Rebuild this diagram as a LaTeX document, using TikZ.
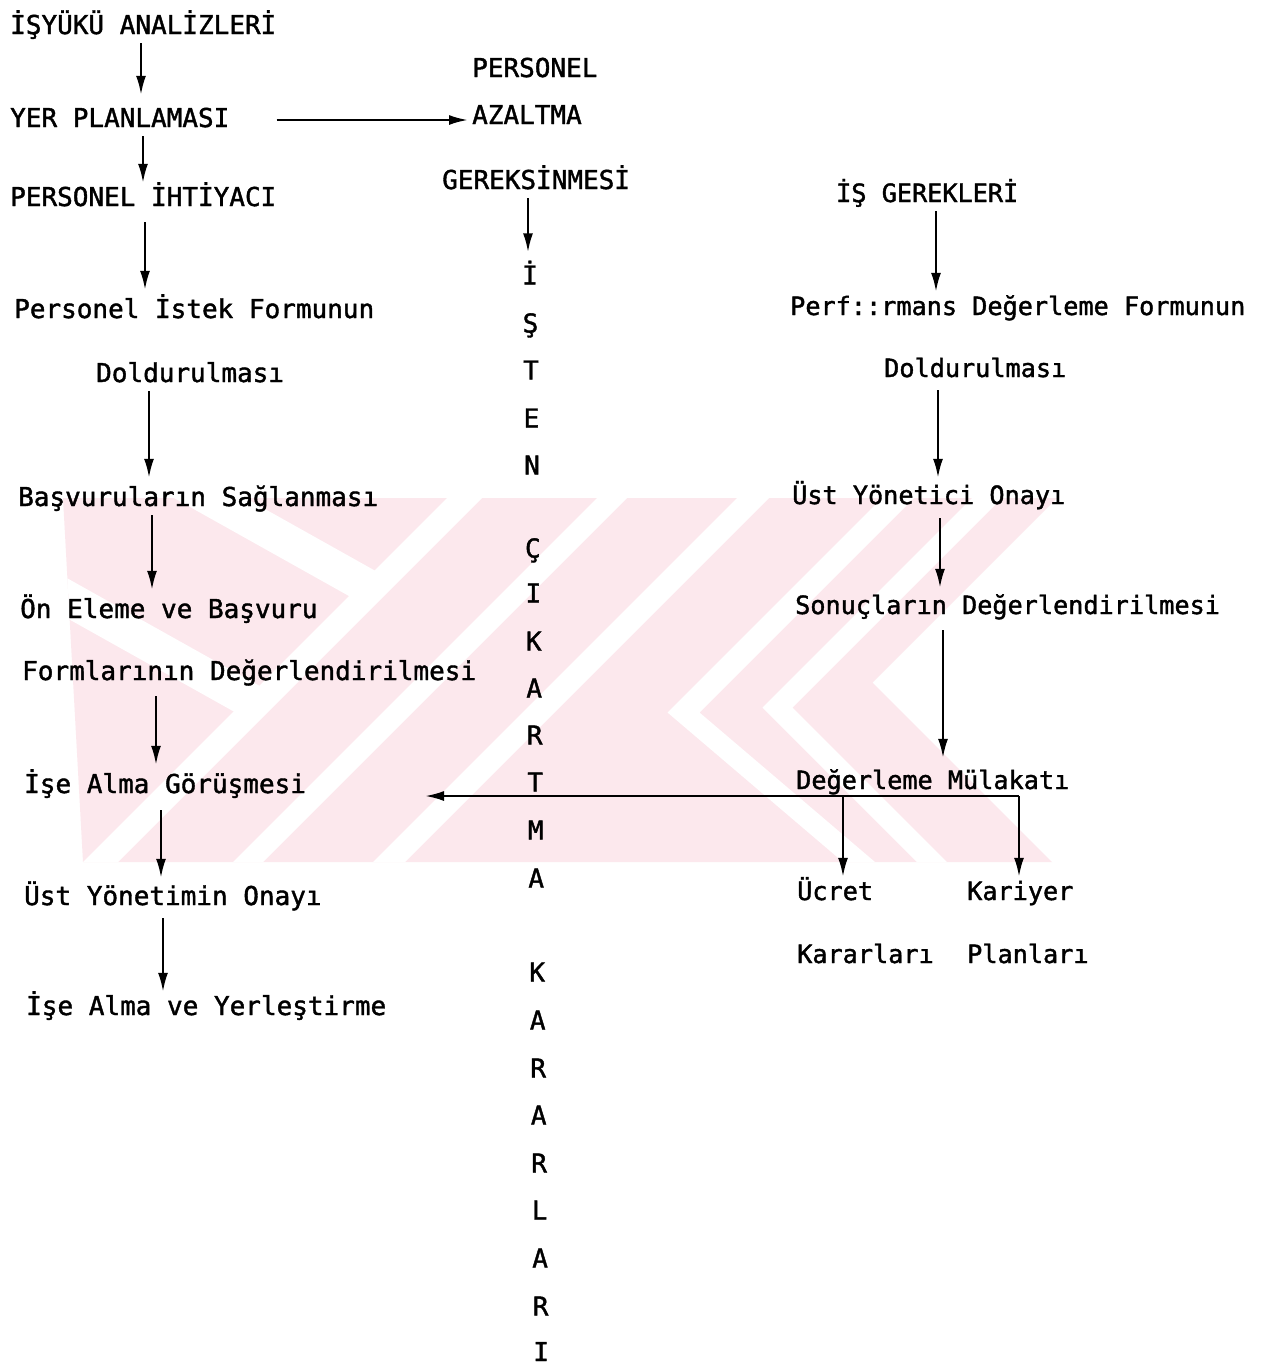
\documentclass[tikz,border=0pt]{standalone}
\usepackage{fontspec}
\newfontfamily\dm[FakeBold=1.5,AutoFakeBold=1.5]{DejaVu Sans Mono}
\usetikzlibrary{arrows.meta}
\definecolor{wm}{RGB}{252,232,237}
\begin{document}
\begin{tikzpicture}[x=1pt,y=-1pt,
  lbl/.style={anchor=base west, inner xsep=0pt, inner ysep=4pt, text height=19pt, text depth=5pt, font=\dm\bfseries\fontsize{26}{28}\selectfont},
  rlbl/.style={lbl, font=\dm\bfseries\fontsize{25.2}{28}\selectfont},
  vch/.style={anchor=base, inner xsep=0pt, inner ysep=4pt, text height=19pt, text depth=5pt, font=\dm\bfseries\fontsize{26}{28}\selectfont},
  arr/.style={line width=2.3pt, -{Latex[length=19pt,width=10pt]}},
  ln/.style={line width=2.3pt}
]
\useasboundingbox (0,0) rectangle (1264,1366);
\fill[white] (0,0) rectangle (1264,1366);

% ---------- watermark ----------
\begin{scope}
\clip (63,498) -- (1057,498) -- (872.5,682.5) -- (1052,862) -- (83,862) -- cycle;
\fill[wm] (0,490) rectangle (1100,870);
\fill[white] (447,498) -- (482,498) -- (118,862) -- (83,862) -- cycle;
\fill[white] (100,416.6) -- (384.2,575.8) -- (358.6,601.4) -- (100,456.6) -- cycle;
\fill[white] (40,563) -- (268.8,691.1) -- (243.2,716.8) -- (40,603) -- cycle;
\fill[white] (597,498) -- (627,498) -- (263,862) -- (233,862) -- cycle;
\fill[white] (737,498) -- (769,498) -- (405,862) -- (373,862) -- cycle;
\fill[white] (882,498) -- (914,498) -- (699.5,712.5) -- (875,862) -- (843,862) -- (667.5,712.5) -- cycle;
\fill[white] (972,498) -- (1002,498) -- (792.5,707.5) -- (947,862) -- (917,862) -- (762.5,707.5) -- cycle;
\end{scope}

% ---------- left column ----------
\node[lbl] (n1) at (10,34) {İŞYÜKÜ ANALİZLERİ};
\node[lbl] (n2) at (10,127) {YER PLANLAMASI};
\node[lbl] (n3) at (10,206) {PERSONEL İHTİYACI};
\node[lbl] (n4) at (14,318) {Personel İstek Formunun};
\node[lbl] (n5) at (96,382) {Doldurulması};
\node[lbl] (n6) at (18,506) {Başvuruların Sağlanması};
\node[lbl] (n7) at (20,618) {Ön Eleme ve Başvuru};
\node[lbl] (n8) at (22,680) {Formlarının Değerlendirilmesi};
\node[lbl] (n9) at (24,793) {İşe Alma Görüşmesi};
\node[lbl] (n10) at (24,905) {Üst Yönetimin Onayı};
\node[lbl] (n11) at (26,1015) {İşe Alma ve Yerleştirme};

% ---------- middle ----------
\node[lbl] (m1) at (472,77) {PERSONEL};
\node[lbl] (m2) at (472,124) {AZALTMA};
\node[lbl] (m3) at (442,189) {GEREKSİNMESİ};
\node[vch] (v1) at (530.0,284.5) {İ};
\node[vch] (v2) at (530.5,332.5) {Ş};
\node[vch] (v3) at (531.0,379.5) {T};
\node[vch] (v4) at (531.5,427.5) {E};
\node[vch] (v5) at (532.0,474.5) {N};
\node[vch] (v6) at (532.8,557.5) {Ç};
\node[vch] (v7) at (533.3,602.5) {I};
\node[vch] (v8) at (533.8,650.5) {K};
\node[vch] (v9) at (534.2,697.5) {A};
\node[vch] (v10) at (534.7,744.5) {R};
\node[vch] (v11) at (535.2,791.5) {T};
\node[vch] (v12) at (535.7,839.5) {M};
\node[vch] (v13) at (536.2,887.5) {A};
\node[vch] (v14) at (537.2,981.5) {K};
\node[vch] (v15) at (537.7,1029.5) {A};
\node[vch] (v16) at (538.2,1077.5) {R};
\node[vch] (v17) at (538.7,1124.5) {A};
\node[vch] (v18) at (539.1,1172.5) {R};
\node[vch] (v19) at (539.6,1219.5) {L};
\node[vch] (v20) at (540.1,1267.5) {A};
\node[vch] (v21) at (540.6,1315.5) {R};
\node[vch, text depth=0pt, inner ysep=0pt] (v22) at (541.1,1361) {I};

% ---------- right column ----------
\node[rlbl] (r1) at (836,202) {İŞ GEREKLERİ};
\node[rlbl] (r2) at (790,315) {Perf::rmans Değerleme Formunun};
\node[rlbl] (r3) at (884,377) {Doldurulması};
\node[rlbl] (r4) at (792,504) {Üst Yönetici Onayı};
\node[rlbl] (r5) at (795,614) {Sonuçların Değerlendirilmesi};
\node[rlbl] (r6) at (796,789) {Değerleme Mülakatı};
\node[rlbl] (r7) at (797,900) {Ücret};
\node[rlbl] (r8) at (797,963) {Kararları};
\node[rlbl] (r9) at (967,900) {Kariyer};
\node[rlbl] (r10) at (967,963) {Planları};

% ---------- connectors ----------
\draw[arr, shorten >=9pt] (n1.south -| 141,0) -- (n2.north -| 141,0);
\draw[arr] (n2.south -| 143,0) -- (n3.north -| 143,0);
\draw[arr, shorten <=7pt, shorten >=5pt] (n3.south -| 145,0) -- (n4.north -| 145,0);
\draw[arr, shorten >=5pt] (n5.south -| 149,0) -- (n6.north -| 149,0);
\draw[arr, shorten >=5pt] (n6.south -| 152,0) -- (n7.north -| 152,0);
\draw[arr, shorten <=7pt, shorten >=5pt] (n8.south -| 156,0) -- (n9.north -| 156,0);
\draw[arr, shorten <=8pt, shorten >=4pt] (n9.south -| 161,0) -- (n10.north -| 161,0);
\draw[arr, shorten <=4pt] (n10.south -| 163,0) -- (n11.north -| 163,0);

\draw[arr, shorten <=47pt, shorten >=4pt] (n2.east) -- (n2.east -| m2.west);
\draw[arr, shorten >=9pt] (m3.south -| 528,0) -- (v1.north -| 528,0);

\draw[arr] (r1.south -| 936,0) -- (r2.north -| 936,0);
\draw[arr, shorten <=4pt, shorten >=3pt] (r3.south -| 938,0) -- (r4.north -| 938,0);
\draw[arr, shorten <=5pt, shorten >=3pt] (r4.south -| 940,0) -- (r5.north -| 940,0);
\draw[arr, shorten <=7pt, shorten >=8pt] (r5.south -| 943,0) -- (r6.north -| 943,0);

\coordinate (bR) at (1019,796);
\coordinate (bM) at (843,796);
\coordinate (bL) at (425,796);
\draw[arr] (bR) -- (bL);
\draw[arr] (bM) -- (r7.north -| bM);
\draw[arr] (bR) -- (r9.north -| bR);
\end{tikzpicture}
\end{document}
